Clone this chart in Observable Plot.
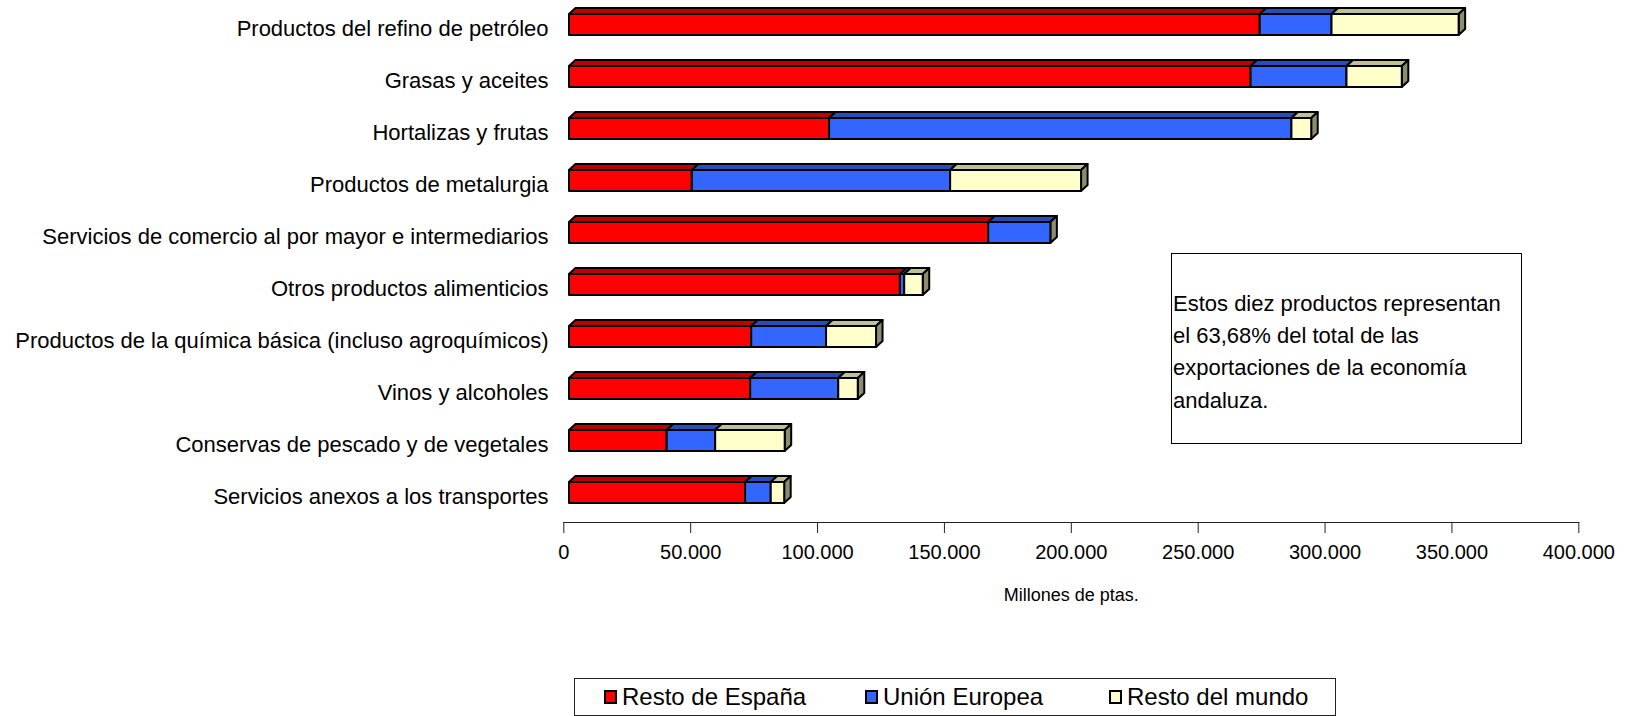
<!DOCTYPE html>
<html>
<head>
<meta charset="utf-8">
<script src="https://cdn.jsdelivr.net/npm/d3@7"></script>
<script src="https://cdn.jsdelivr.net/npm/@observablehq/plot@0.6"></script>
<style>
  body { margin: 0; background: #fff; font-family: "Liberation Sans", Arial, sans-serif; }
  #wrap { position: relative; width: 1627px; }
  #note {
    position: absolute; left: 1171px; top: 253px; width: 351px; height: 191px;
    box-sizing: border-box; border: 1.5px solid #000; background: #fff;
    font-size: 22px; line-height: 32.4px; padding: 33.5px 0 0 1px; color: #000;
  }
  #legend {
    position: relative; margin-left: 574px; width: 762px; height: 38px;
    box-sizing: border-box; border: 1px solid #222; font-size: 24px; color: #000;
  }
  .item { position: absolute; top: 0; height: 36px; display: flex; align-items: center; white-space: nowrap; }
  .sw { width: 13px; height: 14px; box-sizing: border-box; border: 2px solid #000; margin-right: 5px; }
</style>
</head>
<body>
<div id="wrap"></div>
<script>
// ---- data ----
const categories = [
  "Productos del refino de petróleo",
  "Grasas y aceites",
  "Hortalizas y frutas",
  "Productos de metalurgia",
  "Servicios de comercio al por mayor e intermediarios",
  "Otros productos alimenticios",
  "Productos de la química básica (incluso agroquímicos)",
  "Vinos y alcoholes",
  "Conservas de pescado y de vegetales",
  "Servicios anexos a los transportes"
];
const series = ["Resto de España", "Unión Europea", "Resto del mundo"];
const restoEspana   = [272200, 268600, 102500, 48400, 165200, 130400, 71800, 71400, 38500, 69400];
const unionEuropea  = [28300, 37800, 182200, 101800, 24500, 1700, 29500, 34700, 19100, 10100];
const restoMundo    = [50100, 21800, 7800, 51600, 0, 7300, 19700, 7700, 27400, 5300];
const tickValues = [0, 50000, 100000, 150000, 200000, 250000, 300000, 350000, 400000];
const axisTitle = "Millones de ptas.";
const noteLines = ["Estos diez productos representan", "el 63,68% del total de las", "exportaciones de la economía", "andaluza."];

// ---- styles ----
const frontColors = ["#FF0000", "#3366FF", "#FFFFCC"];
const topColors   = ["#C00000", "#264CBF", "#BFBF99"];
const sideColors  = ["#990000", "#1F3D99", "#8C8C70"];
const DX = 6.5, DY = 6;

const seriesValues = [restoEspana, unionEuropea, restoMundo];
const rows = categories.flatMap((c, i) =>
  series.map((s, j) => ({categoria: c, serie: s, valor: seriesValues[j][i]})));

const es = d3.formatLocale({decimal: ",", thousands: ".", grouping: [3], currency: ["", " €"]});
const fmt = es.format(",.0f");

function faces3d(index, scales, values, dimensions, context, next) {
  const g = next(index, scales, values, dimensions, context);
  const ns = "http://www.w3.org/2000/svg";
  const rects = Array.from(g.querySelectorAll("rect"));
  const first = g.firstChild;
  const poly = (pts, fill) => {
    const p = document.createElementNS(ns, "polygon");
    p.setAttribute("points", pts.map(d => d.join(",")).join(" "));
    p.setAttribute("fill", fill);
    g.insertBefore(p, first);
  };
  rects.forEach((r, k) => {
    const i = index[k];
    const j = series.indexOf(rows[i].serie);
    const x = +r.getAttribute("x"), y = +r.getAttribute("y");
    const w = +r.getAttribute("width"), h = +r.getAttribute("height");
    poly([[x, y], [x + DX, y - DY], [x + w + DX, y - DY], [x + w, y]], topColors[j]);
    if (j === series.length - 1) {
      poly([[x + w, y], [x + w + DX, y - DY], [x + w + DX, y + h - DY], [x + w, y + h]], sideColors[j]);
    }
  });
  return g;
}

const step = 52.08;
const plot = Plot.plot({
  width: 1627,
  height: 678,
  marginLeft: 563.3,
  marginRight: 48.7,
  marginTop: 0,
  marginBottom: 156,
  style: {fontFamily: "'Liberation Sans', Arial, sans-serif", background: "#fff", color: "#000", overflow: "visible"},
  x: {domain: [0, 400000]},
  y: {domain: categories, range: [24 - step / 2, 24 + step * 9.5], paddingInner: 0.596, paddingOuter: 0.298},
  color: {domain: series, range: frontColors},
  marks: [
    Plot.frame({anchor: "bottom", stroke: "#222"}),
    Plot.axisX({ticks: tickValues, tickSize: 11, tickPadding: 11.5, fontSize: 20, tickFormat: fmt, label: null, stroke: "#222"}),
    Plot.axisY({tickSize: 0, tickPadding: 15.3, fontSize: 22, dy: 4, label: null}),
    Plot.text([axisTitle], {frameAnchor: "bottom", dy: 72.5, fontSize: 18, lineAnchor: "middle", text: d => d}),
    Plot.barX(rows, Plot.stackX({
      x: "valor", y: "categoria", fill: "serie", order: series,
      stroke: "#000", strokeWidth: 2, strokeLinejoin: "round",
      dx: 5.7, render: faces3d
    }))
  ]
});

const wrap = document.getElementById("wrap");
wrap.appendChild(plot);

const note = document.createElement("div");
note.id = "note";
note.innerHTML = noteLines.join("<br>");
wrap.appendChild(note);

// legend built from the plot's color scale
const color = plot.scale("color");
const legend = document.createElement("div");
legend.id = "legend";
const lefts = [29, 290, 534];
color.domain.forEach((d, i) => {
  const it = document.createElement("div");
  it.className = "item";
  it.style.left = lefts[i] + "px";
  const sw = document.createElement("span");
  sw.className = "sw";
  sw.style.background = color.range[i];
  it.appendChild(sw);
  it.appendChild(document.createTextNode(d));
  legend.appendChild(it);
});
document.body.appendChild(legend);
</script>
</body>
</html>
